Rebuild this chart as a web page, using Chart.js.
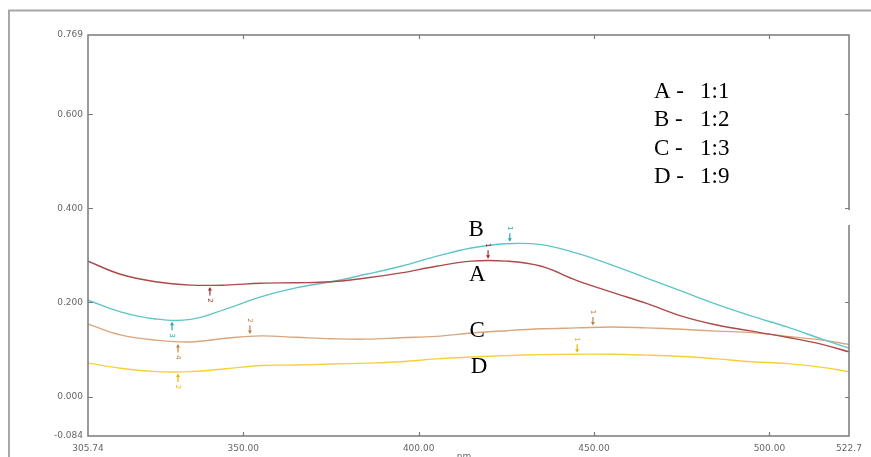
<!DOCTYPE html>
<html><head><meta charset="utf-8">
<script src="https://cdn.jsdelivr.net/npm/chart.js@4/dist/chart.umd.min.js"></script>
<style>html,body{margin:0;padding:0;background:#fff;overflow:hidden}#wrap{width:871px;height:457px;position:relative}</style>
</head><body><div id="wrap"><canvas id="c" width="871" height="457"></canvas></div>
<script>
// ---- data ----
const wavelengths = [305.74,315,325,335,345,355,365,375,385,395,405,415,425,435,445,455,465,475,485,495,505,515,522.7];
const seriesA = [0.288,0.260,0.244,0.237,0.237,0.241,0.242,0.244,0.252,0.263,0.277,0.288,0.288,0.277,0.247,0.222,0.198,0.171,0.152,0.139,0.126,0.111,0.095];
const seriesB = [0.205,0.180,0.165,0.164,0.186,0.212,0.231,0.244,0.260,0.277,0.298,0.316,0.325,0.323,0.305,0.280,0.252,0.224,0.196,0.171,0.148,0.122,0.103];
const seriesC = [0.154,0.131,0.120,0.116,0.124,0.129,0.126,0.123,0.122,0.125,0.128,0.135,0.140,0.144,0.146,0.148,0.146,0.143,0.139,0.136,0.128,0.120,0.111];
const seriesD = [0.071,0.060,0.053,0.053,0.059,0.066,0.067,0.069,0.071,0.074,0.080,0.084,0.087,0.089,0.090,0.090,0.088,0.085,0.080,0.074,0.070,0.062,0.053];
const seriesNames = ['A','B','C','D'];
const legendRatios = ['1:1','1:2','1:3','1:9'];
const xTickValues = [305.74,350,400,450,500,522.7];
const xTickLabels = ['305.74','350.00','400.00','450.00','500.00','522.7'];
const yTickValues = [-0.084,0,0.2,0.4,0.6,0.769];
const yTickLabels = ['-0.084','0.000','0.200','0.400','0.600','0.769'];
// peak / valley picks
const pickSeries = ['A','A','B','B','C','C','C','D','D'];
const pickWave   = [340.5,419.8,329.7,426.0,331.4,351.9,449.7,331.4,445.2];
const pickValue  = [0.236,0.290,0.162,0.326,0.115,0.130,0.148,0.052,0.090];
const pickLabel  = ['2','1','3','1','4','2','1','2','1'];
const pickKind   = ['v','p','v','p','v','p','p','v','p'];
// curve letter anchors (nm, absorbance)
const letterWave  = [416.7,416.4,416.7,417.2];
const letterValue = [0.258,0.354,0.139,0.0625];

const colors = {A:'#ac4a4a',B:'#5ec6c6',C:'#d9a67e',D:'#f6d03c'};
const markColors = {A:'#9a2f33',B:'#2aa8a8',C:'#b98545',D:'#e8b800'};

const toPts = arr => arr.map((v,i)=>({x:wavelengths[i],y:v}));
const allSeries = [seriesA,seriesB,seriesC,seriesD];

const decor = {
  id:'decor',
  afterDraw(chart){
    const ctx = chart.ctx, ca = chart.chartArea;
    const xs = chart.scales.x, ys = chart.scales.y;
    ctx.save();
    // outer frame
    ctx.strokeStyle = '#a8a8a8'; ctx.lineWidth = 2;
    ctx.beginPath(); ctx.moveTo(9,458); ctx.lineTo(9,10.5); ctx.lineTo(871,10.5); ctx.stroke();
    // plot border
    ctx.strokeStyle = '#7a7a7a'; ctx.lineWidth = 1.5;
    ctx.strokeRect(ca.left, ca.top, ca.right-ca.left, ca.bottom-ca.top);
    // gap in right border
    ctx.fillStyle = '#fff'; ctx.fillRect(ca.right-1.5, 210, 3, 15);
    // inward ticks
    ctx.strokeStyle = '#7a7a7a'; ctx.lineWidth = 1.2;
    ctx.beginPath();
    xTickValues.forEach(v=>{ const px = Math.round(xs.getPixelForValue(v))+0.5;
      if (px>ca.left+2 && px<ca.right-2){ ctx.moveTo(px,ca.bottom); ctx.lineTo(px,ca.bottom-4); ctx.moveTo(px,ca.top); ctx.lineTo(px,ca.top+4);} });
    yTickValues.forEach(v=>{ const py = Math.round(ys.getPixelForValue(v))+0.5;
      if (py>ca.top+2 && py<ca.bottom-2){ ctx.moveTo(ca.left,py); ctx.lineTo(ca.left+5,py); ctx.moveTo(ca.right,py); ctx.lineTo(ca.right-4,py);} });
    ctx.stroke();
    // axis title
    ctx.fillStyle = '#666'; ctx.font = '9px "DejaVu Sans"'; ctx.textAlign='center'; ctx.textBaseline='top';
    ctx.fillText('nm', 464, 452);
    // picks
    pickSeries.forEach((s,i)=>{
      const px = xs.getPixelForValue(pickWave[i]);
      const py = ys.getPixelForValue(pickValue[i]);
      const d = pickKind[i]==='v' ? 1 : -1;
      ctx.strokeStyle = markColors[s]; ctx.fillStyle = markColors[s]; ctx.lineWidth = 1.2;
      ctx.beginPath(); ctx.moveTo(px, py + d*3); ctx.lineTo(px, py + d*10); ctx.stroke();
      ctx.beginPath(); ctx.moveTo(px, py + d*1.5); ctx.lineTo(px-2, py + d*5); ctx.lineTo(px+2, py + d*5); ctx.closePath(); ctx.fill();
      ctx.save(); ctx.translate(px, py + d*15); ctx.rotate(Math.PI/2);
      ctx.font = '7px "DejaVu Sans"'; ctx.textAlign='center'; ctx.textBaseline='middle';
      ctx.fillText(pickLabel[i], 0, 0); ctx.restore();
    });
    // curve letters
    ctx.fillStyle = '#000'; ctx.font = '23px "Liberation Serif"'; ctx.textAlign='center'; ctx.textBaseline='middle';
    seriesNames.forEach((n,i)=>{
      ctx.fillText(n, xs.getPixelForValue(letterWave[i]), ys.getPixelForValue(letterValue[i]));
    });
    // legend text
    ctx.textAlign='left';
    seriesNames.forEach((n,i)=>{
      const yy = 92 + i*28.4;
      ctx.fillText(n + ' -', 654, yy);
      ctx.fillText(legendRatios[i], 700, yy);
    });
    ctx.restore();
  }
};

new Chart(document.getElementById('c'), {
  type:'line',
  data:{ datasets: seriesNames.map((n,i)=>({
    label:n, data: toPts(allSeries[i]), borderColor: colors[n], borderWidth:1.4,
    pointRadius:0, tension:0.4, fill:false
  }))},
  options:{
    responsive:false, animation:false, events:[],
    layout:{padding:{left:0,top:35,right:22,bottom:0}},
    plugins:{legend:{display:false}, tooltip:{enabled:false}},
    scales:{
      x:{ type:'linear', min:305.74, max:522.7,
        afterBuildTicks: s => { s.ticks = xTickValues.map(v=>({value:v})); },
        afterFit: s => { s.height = 21; },
        grid:{display:false, drawTicks:false}, border:{display:false},
        ticks:{ autoSkip:false, maxRotation:0, padding:7, color:'#666', font:{family:'DejaVu Sans', size:9},
          callback:(v)=>{ const k = xTickValues.indexOf(v); return k>=0 ? xTickLabels[k] : ''; } } },
      y:{ type:'linear', min:-0.084, max:0.769,
        afterBuildTicks: s => { s.ticks = yTickValues.map(v=>({value:v})); },
        afterFit: s => { s.width = 88; },
        grid:{display:false, drawTicks:false}, border:{display:false},
        ticks:{ padding:5, color:'#666', font:{family:'DejaVu Sans', size:9},
          callback:(v)=>{ const k = yTickValues.indexOf(v); return k>=0 ? yTickLabels[k] : ''; } } }
    }
  },
  plugins:[decor]
});
</script></body></html>
